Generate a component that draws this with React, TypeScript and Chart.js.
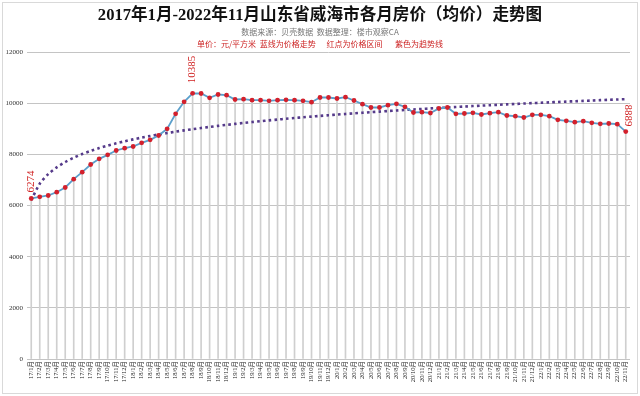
import React, { useEffect, useRef } from "react";
import { Chart, registerables } from "chart.js";

Chart.register(...registerables);

const months: string[] = [
  "17/1月", "17/2月", "17/3月", "17/4月", "17/5月", "17/6月", "17/7月", "17/8月", "17/9月", "17/10月", "17/11月", "17/12月",
  "18/1月", "18/2月", "18/3月", "18/4月", "18/5月", "18/6月", "18/7月", "18/8月", "18/9月", "18/10月", "18/11月", "18/12月",
  "19/1月", "19/2月", "19/3月", "19/4月", "19/5月", "19/6月", "19/7月", "19/8月", "19/9月", "19/10月", "19/11月", "19/12月",
  "20/1月", "20/2月", "20/3月", "20/4月", "20/5月", "20/6月", "20/7月", "20/8月", "20/9月", "20/10月", "20/11月", "20/12月",
  "21/1月", "21/2月", "21/3月", "21/4月", "21/5月", "21/6月", "21/7月", "21/8月", "21/9月", "21/10月", "21/11月", "21/12月",
  "22/1月", "22/2月", "22/3月", "22/4月", "22/5月", "22/6月", "22/7月", "22/8月", "22/9月", "22/10月", "22/11月",
];

const prices: number[] = [
  6274, 6339, 6391, 6521, 6703, 7029, 7303, 7603, 7824, 7980, 8150, 8241,
  8306, 8450, 8567, 8736, 8997, 9583, 10052, 10385, 10378, 10209, 10339, 10313,
  10143, 10156, 10117, 10117, 10091, 10117, 10130, 10117, 10091, 10039, 10221, 10221,
  10182, 10234, 10104, 9961, 9831, 9831, 9922, 9974, 9857, 9635, 9648, 9615,
  9792, 9831, 9583, 9596, 9622, 9557, 9609, 9648, 9518, 9492, 9440, 9544,
  9544, 9492, 9348, 9309, 9257, 9296, 9231, 9192, 9205, 9179, 8889,
];

const yTicksMax = 12000;
const yTickStep = 2000;

// indices of the points that carry a value label (first, peak, last)
const labelledIdx: number[] = [0, 19, 70];

const title = "2017年1月-2022年11月山东省威海市各月房价（均价）走势图";
const subtitle1 = "数据来源：贝壳数据  数据整理：楼市观察CA";
const subtitle2 = "单价：元/平方米  蓝线为价格走势      红点为价格区间       紫色为趋势线";

// logarithmic trend line fitted to the price series (as the source's trendline)
function logTrend(values: number[]): number[] {
  const n = values.length;
  let sx = 0, sy = 0, sxx = 0, sxy = 0;
  values.forEach((v, i) => {
    const x = Math.log(i + 1);
    sx += x; sy += v; sxx += x * x; sxy += x * v;
  });
  const b = (n * sxy - sx * sy) / (n * sxx - sx * sx);
  const a = (sy - b * sx) / n;
  return values.map((_, i) => a + b * Math.log(i + 1));
}

const labelStyles = [
  { rot: -Math.PI / 2, gap: 6, align: "left" as CanvasTextAlign, dx: 0 },
  { rot: -Math.PI / 2, gap: 10, align: "left" as CanvasTextAlign, dx: -1 },
  { rot: Math.PI / 2, gap: 5, align: "right" as CanvasTextAlign, dx: 2 },
];

const valueLabelPlugin = {
  id: "valueLabels",
  afterDatasetsDraw(chart: any) {
    const meta = chart.getDatasetMeta(0);
    const ctx = chart.ctx as CanvasRenderingContext2D;
    ctx.save();
    ctx.fillStyle = "#d02020";
    ctx.font = "11px 'Liberation Serif', serif";
    ctx.textBaseline = "middle";
    labelledIdx.forEach((idx, k) => {
      const el = meta.data[idx];
      if (!el) return;
      const st = labelStyles[k];
      ctx.save();
      ctx.translate(el.x + st.dx, el.y - st.gap);
      ctx.rotate(st.rot);
      ctx.textAlign = st.align;
      ctx.fillText(String(prices[idx]), 0, 0);
      ctx.restore();
    });
    ctx.restore();
  },
  afterDraw(chart: any) {
    const ctx = chart.ctx as CanvasRenderingContext2D;
    ctx.save();
    ctx.strokeStyle = "#d9d9d9";
    ctx.lineWidth = 1;
    ctx.strokeRect(2.5, 2.5, 635, 391);
    ctx.restore();
  },
};

export default function App() {
  const canvasRef = useRef<HTMLCanvasElement | null>(null);

  useEffect(() => {
    if (!canvasRef.current) return;
    const trend = logTrend(prices);
    const chart = new Chart(canvasRef.current, {
      type: "line",
      data: {
        labels: months,
        datasets: [
          {
            type: "line",
            data: prices,
            borderColor: "#5a9fcb",
            borderWidth: 1.8,
            pointRadius: 2.4,
            pointBackgroundColor: "#d3202c",
            pointBorderWidth: 0,
            tension: 0,
            order: 0,
          },
          {
            type: "line",
            data: trend,
            borderColor: "#553a8a",
            borderWidth: 2.6,
            borderDash: [2.6, 3.2],
            pointRadius: 0,
            tension: 0.3,
            order: 1,
          },
          {
            type: "bar",
            data: prices,
            backgroundColor: "#cfcfcf",
            barThickness: 1,
            order: 2,
          } as any,
        ],
      },
      options: {
        animation: false,
        responsive: false,
        maintainAspectRatio: false,
        layout: { padding: { top: 52, right: 10, left: 0, bottom: 0 } },
        plugins: {
          legend: { display: false },
          tooltip: { enabled: false },
          title: { display: false },
        },
        scales: {
          x: {
            type: "category",
            offset: true,
            grid: { display: false, drawTicks: false },
            border: { display: false },
            ticks: {
              autoSkip: false,
              minRotation: 90,
              maxRotation: 90,
              padding: 2,
              color: "#222",
              font: { size: 6.5, family: "'Liberation Serif', 'Noto Sans CJK SC'" },
            },
            afterFit(scale: any) {
              scale.height = 37;
            },
          },
          y: {
            min: 0,
            max: yTicksMax,
            ticks: {
              stepSize: yTickStep,
              padding: 4,
              color: "#333",
              font: { size: 7, family: "'Liberation Serif', serif" },
              callback: (v: any) => String(v),
            },
            grid: { color: "#c4c4c4", lineWidth: 1, drawTicks: false },
            border: { display: false },
            afterFit(scale: any) {
              scale.width = 27;
            },
          },
        },
      } as any,
      plugins: [valueLabelPlugin],
    });
    return () => chart.destroy();
  }, []);

  return (
    <div style={{ position: "absolute", left: 0, top: 0, width: 640, height: 396, background: "#fff" }}>
      <canvas ref={canvasRef} width={640} height={396} style={{ position: "absolute", left: 0, top: 0 }} />
      <div
        style={{
          position: "absolute", left: 0, top: 5, width: 640, textAlign: "center",
          fontSize: 16.6, lineHeight: "20px", fontWeight: "bold", color: "#111",
          fontFamily: "'Liberation Serif', 'Noto Sans CJK SC', serif",
        }}
      >
        {title}
      </div>
      <div
        style={{
          position: "absolute", left: 0, top: 27, width: 640, textAlign: "center",
          fontSize: 8, lineHeight: "10px", color: "#777", whiteSpace: "pre",
          fontFamily: "'Noto Sans CJK SC', sans-serif",
        }}
      >
        {subtitle1}
      </div>
      <div
        style={{
          position: "absolute", left: 0, top: 39, width: 640, textAlign: "center",
          fontSize: 8, lineHeight: "10px", color: "#cc2222", whiteSpace: "pre",
          fontFamily: "'Noto Sans CJK SC', sans-serif",
        }}
      >
        {subtitle2}
      </div>
    </div>
  );
}
